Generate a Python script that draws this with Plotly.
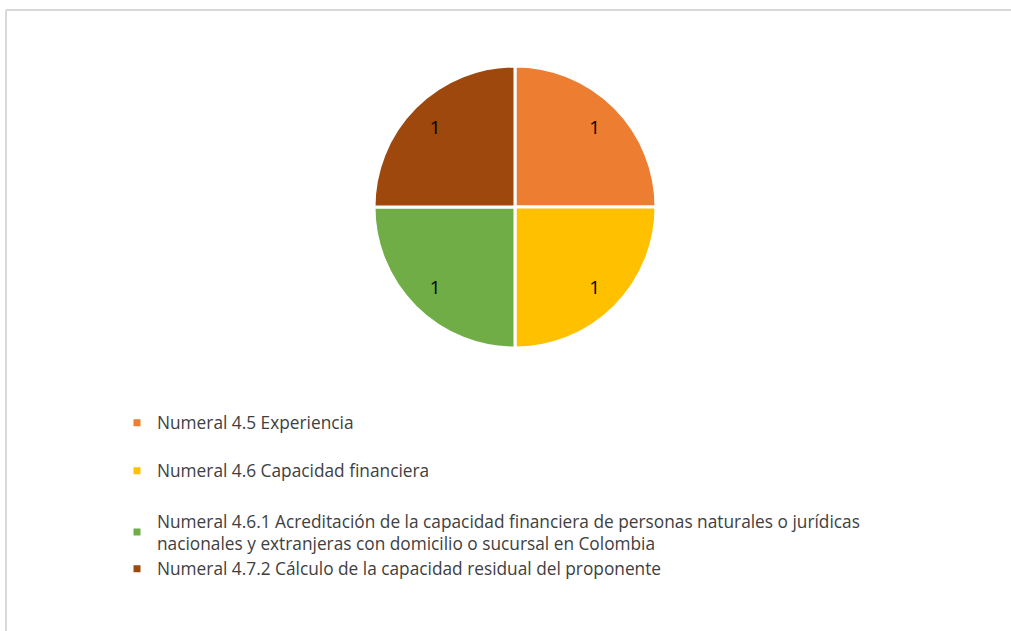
import plotly.graph_objects as go

categories = [
    "Numeral 4.5 Experiencia",
    "Numeral 4.6 Capacidad financiera",
    "Numeral 4.6.1 Acreditación de la capacidad financiera de personas naturales o jurídicas<br>nacionales y extranjeras con domicilio o sucursal en Colombia",
    "Numeral 4.7.2 Cálculo de la capacidad residual del proponente",
]
values = [1, 1, 1, 1]
colors = ["#ED7D31", "#FFC000", "#70AD47", "#9E480E"]

W, H = 1011, 631
cx0, cx1 = 374, 656
cy0, cy1 = 66, 348
pie_domain = dict(x=[cx0 / W, cx1 / W], y=[1 - cy1 / H, 1 - cy0 / H])

fig = go.Figure()
# filled pie
fig.add_trace(go.Pie(
    labels=categories,
    values=values,
    sort=False,
    direction="clockwise",
    rotation=0,
    marker=dict(colors=colors, line=dict(color="white", width=3)),
    textinfo="none",
    showlegend=False,
    hoverinfo="label+value",
    domain=pie_domain,
))
# transparent ring carrying the data labels near the outer edge
fig.add_trace(go.Pie(
    labels=categories,
    values=values,
    sort=False,
    direction="clockwise",
    rotation=0,
    hole=0.6,
    marker=dict(colors=["rgba(0,0,0,0)"] * len(values), line=dict(width=0)),
    texttemplate="%{value}",
    textposition="inside",
    insidetextorientation="horizontal",
    textfont=dict(family="Open Sans", size=19, color="black"),
    showlegend=False,
    hoverinfo="skip",
    domain=pie_domain,
))

legend_y = [423, 471, 532, 569]
legend_names = ["legend", "legend2", "legend3", "legend4"]
layout_legends = {}
for name, col, lid, yc in zip(categories, colors, legend_names, legend_y):
    fig.add_trace(go.Scatter(
        x=[None], y=[None], mode="markers", name=name,
        marker=dict(symbol="square", size=7, color=col),
        legend=lid, showlegend=True, hoverinfo="skip",
    ))
    layout_legends[lid] = dict(
        x=(157 - 40) / W, y=1 - yc / H, xanchor="left", yanchor="middle",
        bgcolor="rgba(0,0,0,0)", borderwidth=0,
        font=dict(family="Open Sans", size=17.3, color="#404040"),
        itemwidth=30,
    )

fig.update_layout(
    width=W, height=H,
    margin=dict(l=0, r=0, t=0, b=0),
    paper_bgcolor="white", plot_bgcolor="white",
    xaxis=dict(visible=False), yaxis=dict(visible=False),
    shapes=[
        dict(type="line", xref="paper", yref="paper", x0=6 / W, x1=1, y0=1 - 10 / H, y1=1 - 10 / H,
             line=dict(color="#d9d9d9", width=2)),
        dict(type="line", xref="paper", yref="paper", x0=6 / W, x1=6 / W, y0=0, y1=1 - 10 / H,
             line=dict(color="#d9d9d9", width=2)),
    ],
    **layout_legends,
)

fig.write_html(
    "out.html",
    config={"displayModeBar": False},
    post_script="document.body.style.margin='0';document.body.style.overflow='hidden';",
)
